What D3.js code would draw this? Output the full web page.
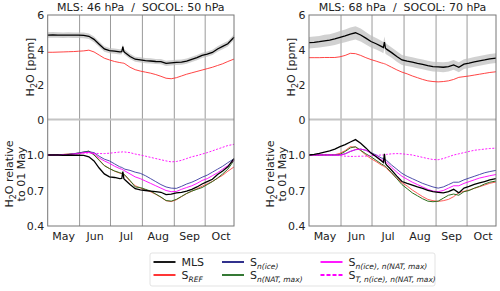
<!DOCTYPE html>
<html>
<head>
<meta charset="utf-8">
<script src="https://cdn.jsdelivr.net/npm/d3@7"></script>
<style>
  body { margin: 0; background: #fff; }
  text { font-family: "DejaVu Sans", sans-serif; }
</style>
</head>
<body>
<svg id="chart" width="500" height="291"></svg>
<script>
// days since 01 May
let days = [0,5,10,15,20,25,30,35,40,45,50,55,60,65,70,72,73,74,75,80,85,90,95,100,105,110,115,120,125,130,135,140,145,150,155,160,165,170,175,181];
let months = ['May', 'Jun', 'Jul', 'Aug', 'Sep', 'Oct'];
let upTicks = [0, 2, 4, 6];
let loTicks = [0.4, 0.7, 1.0];

// left panel: MLS 46 hPa / SOCOL 50 hPa
let mlsL = [4.85,4.86,4.85,4.84,4.85,4.84,4.84,4.83,4.78,4.6, 4.32,4.05,3.95,3.93,3.88,3.9,4.18,3.9,3.85,3.62, 3.46,3.42,3.38,3.36,3.33,3.32,3.22,3.25,3.28,3.3, 3.35,3.45,3.55,3.68,3.75,3.85,4.05,4.2,4.35,4.72];
let errL = [0.16,0.16,0.16,0.16,0.16,0.16,0.16,0.16,0.16,0.16, 0.16,0.16,0.15,0.15,0.15,0.15,0.15,0.15,0.15,0.15, 0.15,0.15,0.15,0.15,0.15,0.15,0.15,0.15,0.15,0.15, 0.15,0.15,0.15,0.15,0.15,0.15,0.16,0.16,0.16,0.16];
let srefL = [3.86,3.86,3.87,3.88,3.89,3.9,3.92,3.94,3.98,3.88, 3.7,3.52,3.42,3.33,3.27,3.25,3.24,3.23,3.2,3.0, 2.86,2.78,2.72,2.66,2.58,2.48,2.37,2.34,2.4,2.5, 2.6,2.68,2.76,2.84,2.92,3.0,3.1,3.2,3.33,3.47];
let relMlsL = [1.0,1.0,1.0,0.998,1.0,0.998,0.998,0.996,0.985,0.95, 0.89,0.84,0.815,0.81,0.8,0.802,0.86,0.8,0.79,0.75, 0.715,0.705,0.7,0.695,0.69,0.685,0.665,0.67,0.68,0.685, 0.695,0.71,0.73,0.755,0.775,0.795,0.835,0.865,0.9,0.97];
let relRefL = [1.0,1.0,1.002,1.005,1.008,1.01,1.016,1.021,1.031,1.005, 0.959,0.912,0.886,0.863,0.847,0.842,0.839,0.837,0.829,0.777, 0.741,0.72,0.705,0.689,0.668,0.642,0.614,0.606,0.622,0.648, 0.674,0.694,0.715,0.736,0.756,0.777,0.803,0.829,0.863,0.899];
let relIceL = [1.0,1.0,1.0,1.002,1.005,1.01,1.018,1.025,1.028,1.02, 0.99,0.965,0.95,0.925,0.9,0.895,0.89,0.885,0.88,0.87, 0.855,0.845,0.825,0.8,0.775,0.75,0.73,0.72,0.718,0.735, 0.755,0.77,0.79,0.812,0.83,0.855,0.88,0.905,0.935,0.968];
let relNatL = [1.0,1.0,1.002,1.004,1.006,1.01,1.015,1.025,1.033,1.0, 0.955,0.91,0.885,0.865,0.85,0.845,0.842,0.838,0.83,0.785, 0.73,0.725,0.71,0.695,0.67,0.645,0.615,0.61,0.625,0.65, 0.675,0.695,0.71,0.725,0.75,0.775,0.805,0.84,0.88,0.955];
let relBothL = [1.0,1.0,1.0,1.002,1.004,1.008,1.012,1.02,1.022,1.01, 0.975,0.95,0.93,0.905,0.885,0.88,0.875,0.87,0.865,0.84, 0.815,0.8,0.78,0.76,0.74,0.72,0.7,0.69,0.692,0.71, 0.725,0.74,0.76,0.785,0.8,0.825,0.85,0.88,0.91,0.955];
let relTL = [1.0,1.0,1.0,1.002,1.004,1.006,1.01,1.015,1.018,1.015, 1.012,1.012,1.015,1.02,1.025,1.025,1.027,1.027,1.025,1.02, 1.008,1.0,0.99,0.98,0.97,0.96,0.95,0.942,0.945,0.955, 0.97,0.985,0.995,1.008,1.02,1.035,1.05,1.065,1.08,1.09];

// right panel: MLS 68 hPa / SOCOL 70 hPa
let mlsR = [4.41,4.43,4.47,4.52,4.56,4.63,4.72,4.8,4.9,4.98, 4.85,4.67,4.48,4.35,4.2,4.13,4.45,4.1,4.04,3.84, 3.62,3.42,3.35,3.29,3.22,3.16,3.09,3.04,3.02,3.0, 3.04,3.13,3.0,3.18,3.24,3.31,3.37,3.42,3.48,3.53];
let errR = [0.33,0.33,0.33,0.34,0.34,0.35,0.36,0.37,0.38,0.38, 0.37,0.36,0.34,0.33,0.32,0.32,0.32,0.32,0.31,0.3, 0.3,0.29,0.28,0.28,0.28,0.28,0.28,0.28,0.28,0.28, 0.28,0.28,0.28,0.28,0.28,0.28,0.28,0.28,0.28,0.28];
let srefR = [3.55,3.55,3.55,3.56,3.56,3.56,3.6,3.68,3.8,3.78, 3.68,3.55,3.44,3.35,3.25,3.22,3.2,3.18,3.15,3.0, 2.85,2.72,2.62,2.5,2.4,2.3,2.22,2.18,2.16,2.18, 2.22,2.3,2.42,2.46,2.5,2.55,2.6,2.65,2.7,2.74];
let relMlsR = [1.0,1.005,1.014,1.025,1.034,1.05,1.07,1.088,1.11,1.13, 1.1,1.06,1.016,0.986,0.952,0.937,1.01,0.93,0.916,0.871, 0.821,0.776,0.76,0.746,0.73,0.717,0.701,0.69,0.685,0.68, 0.69,0.71,0.68,0.721,0.735,0.751,0.764,0.776,0.789,0.8];
let relRefR = [1.0,1.0,1.0,1.003,1.003,1.003,1.014,1.037,1.07,1.065, 1.037,1.0,0.969,0.944,0.915,0.907,0.901,0.896,0.887,0.845, 0.803,0.766,0.738,0.704,0.676,0.648,0.625,0.614,0.608,0.614, 0.625,0.648,0.682,0.693,0.704,0.718,0.732,0.746,0.761,0.772];
let relIceR = [1.0,1.0,1.0,1.0,1.0,1.0,1.0,1.01,1.03,1.045, 1.05,1.04,1.02,1.0,0.975,0.97,0.965,0.96,0.955,0.915, 0.88,0.845,0.82,0.8,0.78,0.76,0.745,0.73,0.72,0.73, 0.75,0.77,0.77,0.79,0.805,0.82,0.835,0.85,0.86,0.87];
let relNatR = [1.0,1.0,1.0,1.0,1.0,1.0,1.005,1.03,1.06,1.07, 1.04,1.01,0.985,0.955,0.925,0.915,0.91,0.905,0.895,0.85, 0.8,0.75,0.715,0.68,0.655,0.63,0.61,0.605,0.61,0.635, 0.66,0.67,0.66,0.69,0.7,0.72,0.735,0.755,0.77,0.78];
let relBothR = [1.0,1.0,1.0,1.0,1.0,1.0,1.0,1.01,1.03,1.045, 1.05,1.04,1.015,0.99,0.96,0.955,0.95,0.945,0.94,0.895, 0.855,0.82,0.795,0.77,0.75,0.73,0.71,0.695,0.69,0.7, 0.72,0.74,0.74,0.76,0.775,0.79,0.805,0.815,0.825,0.835];
let relTR = [1.0,1.0,1.0,1.0,1.0,0.998,0.995,0.99,0.988,0.988, 0.99,0.99,0.995,0.998,1.0,1.0,1.0,1.0,1.005,1.01, 1.012,1.01,1.005,1.0,0.99,0.98,0.97,0.962,0.96,0.97, 0.985,1.0,1.01,1.02,1.03,1.04,1.045,1.05,1.055,1.058];

let t0 = Date.UTC(2010, 4, 1);
let toDate = d => new Date(t0 + d * 864e5);

let svg = d3.select('#chart');

let yUp = d3.scaleLinear().domain([0, 6]).range([119.5, 15]);
let yLo = d3.scaleLinear().domain([0.4, 1.3]).range([226, 119.5]);

let panels = [
    {x0: 47.7, x1: 234, title: 'MLS: 46 hPa  /  SOCOL: 50 hPa', mls: mlsL, err: errL, sref: srefL,
        rel: [[relRefL, '#ff3030', 0.8, null], [relNatL, '#2e6e1e', 1.0, null], [relIceL, '#3a3aa0', 0.9, null],
            [relBothL, '#ff00ff', 0.9, null], [relTL, '#ff00ff', 0.9, '2,1.5'], [relMlsL, '#000', 1.3, null]]},
    {x0: 309, x1: 496, title: 'MLS: 68 hPa  /  SOCOL: 70 hPa', mls: mlsR, err: errR, sref: srefR,
        rel: [[relRefR, '#ff3030', 0.8, null], [relNatR, '#2e6e1e', 1.0, null], [relIceR, '#3a3aa0', 0.9, null],
            [relBothR, '#ff00ff', 0.9, null], [relTR, '#ff00ff', 0.9, '2,1.5'], [relMlsR, '#000', 1.3, null]]}
];

function draw_panel(p) {
    let g = svg.append('g');
    let x = d3.scaleUtc().domain([toDate(0), toDate(181)]).range([p.x0, p.x1]);

    // month grid
    let bounds = d3.utcMonth.range(toDate(1), toDate(181));
    g.selectAll('.vg').data(bounds).enter().append('line')
        .attr('x1', d => x(d)).attr('x2', d => x(d))
        .attr('y1', 15).attr('y2', 226)
        .attr('stroke', '#9a9a9a').attr('stroke-width', 1);

    // zero line of upper panel
    g.append('line').attr('x1', p.x0).attr('x2', p.x1)
        .attr('y1', yUp(0)).attr('y2', yUp(0))
        .attr('stroke', '#c4c4c4').attr('stroke-width', 2);

    // MLS uncertainty band
    let area = d3.area()
        .x((d, i) => x(toDate(days[i])))
        .y0((d, i) => yUp(p.mls[i] - p.err[i]))
        .y1((d, i) => yUp(p.mls[i] + p.err[i]));
    g.append('path').attr('d', area(days)).attr('fill', '#bdbdbd').attr('opacity', 0.7);

    let lineUp = arr => d3.line().x((d, i) => x(toDate(days[i]))).y(d => yUp(d))(arr);
    g.append('path').attr('d', lineUp(p.sref)).attr('fill', 'none').attr('stroke', '#ff3030').attr('stroke-width', 0.9);
    g.append('path').attr('d', lineUp(p.mls)).attr('fill', 'none').attr('stroke', '#000').attr('stroke-width', 1.3);

    let lineLo = arr => d3.line().x((d, i) => x(toDate(days[i]))).y(d => yLo(d))(arr);
    p.rel.forEach(r => {
        g.append('path').attr('d', lineLo(r[0])).attr('fill', 'none')
            .attr('stroke', r[1]).attr('stroke-width', r[2])
            .attr('stroke-dasharray', r[3]);
    });

    // frame
    g.append('rect').attr('x', p.x0).attr('y', 15)
        .attr('width', p.x1 - p.x0).attr('height', 226 - 15)
        .attr('fill', 'none').attr('stroke', '#777').attr('stroke-width', 1);

    // y ticks
    g.selectAll('.tu').data(upTicks).enter().append('text')
        .attr('x', p.x0 - 3.5).attr('y', d => yUp(d) + 4)
        .attr('text-anchor', 'end').attr('font-size', 11).attr('fill', '#222')
        .text(d => d);
    g.selectAll('.tl').data(loTicks).enter().append('text')
        .attr('x', p.x0 - 3.5).attr('y', d => yLo(d) + 4)
        .attr('text-anchor', 'end').attr('font-size', 11).attr('fill', '#222')
        .text(d => d3.format('.1f')(d));

    // month labels, centred between month bounds
    g.selectAll('.ml').data(months).enter().append('text')
        .attr('x', (d, i) => (x(d3.utcMonth.offset(toDate(0), i)) + x(d3.utcMonth.offset(toDate(0), i + 1))) / 2)
        .attr('y', 240).attr('text-anchor', 'middle').attr('font-size', 11).attr('fill', '#222')
        .text(d => d);

    // title
    g.append('text').attr('x', (p.x0 + p.x1) / 2).attr('y', 11)
        .attr('text-anchor', 'middle').attr('font-size', 11).attr('fill', '#222')
        .style('white-space', 'pre').text(p.title);

    // y labels
    let t1 = g.append('text').attr('transform', 'translate(' + (p.x0 - 14) + ',' + 67 + ') rotate(-90)')
        .attr('text-anchor', 'middle').attr('font-size', 11).attr('fill', '#222');
    t1.append('tspan').text('H');
    t1.append('tspan').attr('font-size', 8).attr('dy', 3).text('2');
    t1.append('tspan').attr('dy', -3).text('O [ppm]');

    let t2 = g.append('text').attr('transform', 'translate(' + (p.x0 - 35) + ',' + 174 + ') rotate(-90)')
        .attr('text-anchor', 'middle').attr('font-size', 11).attr('fill', '#222');
    t2.append('tspan').text('H');
    t2.append('tspan').attr('font-size', 8).attr('dy', 3).text('2');
    t2.append('tspan').attr('dy', -3).text('O relative');
    g.append('text').attr('transform', 'translate(' + (p.x0 - 23) + ',' + 174 + ') rotate(-90)')
        .attr('text-anchor', 'middle').attr('font-size', 11).attr('fill', '#222')
        .text('to 01 May');
}

panels.forEach(draw_panel);

// legend
let legend = [
    {sub: null, main: 'MLS', col: '#000', dash: null, cx: 153.5, cy: 262},
    {sub: 'REF', main: 'S', col: '#ff2020', dash: null, cx: 153.5, cy: 275},
    {sub: 'n(ice)', main: 'S', col: '#1a1a80', dash: null, cx: 222, cy: 262},
    {sub: 'n(NAT, max)', main: 'S', col: '#1f6a1f', dash: null, cx: 222, cy: 275},
    {sub: 'n(ice), n(NAT, max)', main: 'S', col: '#ff00ff', dash: null, cx: 320.5, cy: 262},
    {sub: 'T, n(ice), n(NAT, max)', main: 'S', col: '#ff00ff', dash: '4,2', cx: 320.5, cy: 275}
];

let lg = svg.append('g');
lg.append('rect').attr('x', 150).attr('y', 253).attr('width', 285).attr('height', 33)
    .attr('rx', 2).attr('fill', '#fff').attr('stroke', '#dcdcdc').attr('stroke-width', 0.8);
legend.forEach(e => {
    lg.append('line').attr('x1', e.cx).attr('x2', e.cx + 22).attr('y1', e.cy).attr('y2', e.cy)
        .attr('stroke', e.col).attr('stroke-width', 1.8).attr('stroke-dasharray', e.dash);
    let t = lg.append('text').attr('x', e.cx + 28).attr('y', e.cy + 4)
        .attr('font-size', 11).attr('fill', '#222');
    t.append('tspan').text(e.main);
    if (e.sub) t.append('tspan').attr('font-size', 7.5).attr('font-style', 'italic').attr('dy', 2.5).text(e.sub);
});
</script>
</body>
</html>
